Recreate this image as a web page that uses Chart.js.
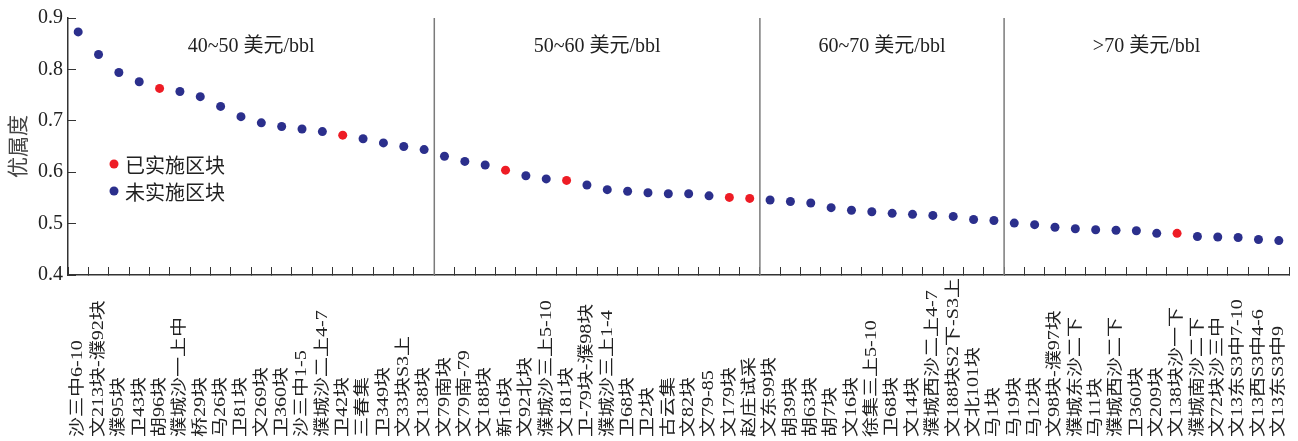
<!DOCTYPE html>
<html>
<head>
<meta charset="utf-8">
<script src="https://cdn.jsdelivr.net/npm/chart.js@4/dist/chart.umd.min.js"></script>
<style>
    html, body { margin: 0; padding: 0; background: #fff; }
    #wrap { width: 1298px; height: 441px; position: relative; }
</style>
</head>
<body>
<div id="wrap"><canvas id="chart"></canvas></div>
<script>
// 区块名称
const categories = [
    '沙三中6-10', '文213块-濮92块', '濮95块', '卫43块', '胡96块', '濮城沙一上中',
    '桥29块', '马26块', '卫81块', '文269块', '卫360块', '沙三中1-5',
    '濮城沙二上4-7', '卫42块', '三春集', '卫349块', '文33块S3上', '文138块',
    '文79南块', '文79南-79', '文188块', '新16块', '文92北块', '濮城沙三上5-10',
    '文181块', '卫-79块-濮98块', '濮城沙三上1-4', '卫68块', '卫2块', '古云集',
    '文82块', '文79-85', '文179块', '赵庄试采', '文东99块', '胡39块',
    '胡63块', '胡7块', '文16块', '徐集三上5-10', '卫68块', '文14块',
    '濮城西沙二上4-7', '文188块S2下-S3上', '文北101块', '马1块', '马19块', '马12块',
    '文98块-濮97块', '濮城东沙二下', '马11块', '濮城西沙二下', '卫360块', '文209块',
    '文138块沙一下', '濮城南沙二下', '文72块沙三中', '文13东S3中7-10', '文13西S3中4-6', '文13东S3中9'
];

// 优属度
const values = [
    0.873, 0.829, 0.794, 0.776, 0.763, 0.757,
    0.747, 0.728, 0.708, 0.696, 0.689, 0.684,
    0.679, 0.672, 0.665, 0.657, 0.650, 0.644,
    0.631, 0.621, 0.614, 0.604, 0.593, 0.587,
    0.584, 0.575, 0.566, 0.563, 0.560, 0.558,
    0.558, 0.554, 0.551, 0.549, 0.546, 0.543,
    0.540, 0.531, 0.526, 0.523, 0.520, 0.518,
    0.516, 0.514, 0.508, 0.506, 0.501, 0.498,
    0.493, 0.490, 0.488, 0.487, 0.486, 0.481,
    0.481, 0.475, 0.474, 0.473, 0.469, 0.467
];

// 已实施区块的序号
const implementedIdx = [4, 13, 21, 24, 32, 33, 54];

// 油价分组
const groupLabels = ['40~50 美元/bbl', '50~60 美元/bbl', '60~70 美元/bbl', '>70 美元/bbl'];
const groupSizes = [18, 16, 12, 14];

const yTicks = [0.4, 0.5, 0.6, 0.7, 0.8, 0.9];

const seriesNames = ['已实施区块', '未实施区块'];
const colors = ['#ee1c25', '#2b2f8c'];

const doneData = values.map((v, i) => implementedIdx.includes(i) ? v : null);
const todoData = values.map((v, i) => implementedIdx.includes(i) ? null : v);

const serif = "'Liberation Serif', 'Noto Sans CJK SC', serif";

// 分组竖线和油价文字
const groupPlugin = {
    id: 'groups',
    beforeDatasetsDraw(chart) {
        const { ctx, chartArea, scales: { x } } = chart;
        ctx.save();
        ctx.strokeStyle = '#7a7a7a';
        ctx.lineWidth = 1.5;
        ctx.fillStyle = '#222';
        ctx.font = '20px ' + serif;
        ctx.textAlign = 'center';
        ctx.textBaseline = 'middle';
        let start = 0;
        groupSizes.forEach((n, g) => {
            const end = start + n;
            const left = start === 0 ? chartArea.left : (x.getPixelForValue(start - 1) + x.getPixelForValue(start)) / 2;
            const right = end === categories.length ? chartArea.right : (x.getPixelForValue(end - 1) + x.getPixelForValue(end)) / 2;
            if (end < categories.length) {
                ctx.beginPath();
                ctx.moveTo(right, chartArea.top);
                ctx.lineTo(right, chartArea.bottom);
                ctx.stroke();
            }
            ctx.fillText(groupLabels[g], (left + right) / 2, chartArea.top + 29);
            start = end;
        });
        ctx.restore();
    }
};

// 竖排的区块名称 + 图例
const labelPlugin = {
    id: 'labels',
    afterDraw(chart) {
        const { ctx, chartArea, scales: { x } } = chart;
        ctx.save();
        ctx.fillStyle = '#222';
        ctx.font = '20px ' + serif;
        ctx.textAlign = 'left';
        ctx.textBaseline = 'middle';
        categories.forEach((name, i) => {
            ctx.save();
            ctx.translate(x.getPixelForValue(i), chart.height - 4);
            ctx.rotate(-Math.PI / 2);
            ctx.scale(1, 0.82);
            ctx.fillText(name, 0, 0);
            ctx.restore();
        });

        // 图例
        ctx.font = "20px 'Noto Sans CJK SC', sans-serif";
        seriesNames.forEach((name, k) => {
            const ly = chartArea.top + 146 + k * 27;
            ctx.fillStyle = colors[k];
            ctx.beginPath();
            ctx.arc(chartArea.left + 46, ly, 4.5, 0, Math.PI * 2);
            ctx.fill();
            ctx.fillStyle = '#222';
            ctx.fillText(name, chartArea.left + 57, ly + 1);
        });
        ctx.restore();
    }
};

new Chart(document.getElementById('chart'), {
    type: 'line',
    data: {
        labels: categories,
        datasets: [
            { label: seriesNames[0], data: doneData, showLine: false, pointRadius: 4.5, pointHoverRadius: 4.5,
              pointBorderWidth: 0, backgroundColor: colors[0], borderColor: colors[0] },
            { label: seriesNames[1], data: todoData, showLine: false, pointRadius: 4.5, pointHoverRadius: 4.5,
              pointBorderWidth: 0, backgroundColor: colors[1], borderColor: colors[1] }
        ]
    },
    options: {
        responsive: true,
        maintainAspectRatio: false,
        animation: false,
        layout: { padding: { top: 18, right: 9, left: 0, bottom: 0 } },
        plugins: {
            legend: { display: false },
            tooltip: { enabled: false }
        },
        scales: {
            x: {
                type: 'category',
                offset: true,
                grid: { offset: true, drawOnChartArea: false, tickLength: -8, color: '#333', lineWidth: 1 },
                border: { color: '#333', width: 1.5 },
                ticks: { display: false },
                afterFit(s) { s.height = 166; }
            },
            y: {
                min: yTicks[0],
                max: yTicks[yTicks.length - 1],
                afterBuildTicks(s) { s.ticks = yTicks.map(v => ({ value: v })); },
                grid: { drawOnChartArea: false, tickLength: -8, color: '#333', lineWidth: 1 },
                border: { color: '#333', width: 1.5 },
                ticks: {
                    color: '#222',
                    padding: 13,
                    font: { family: serif, size: 20 },
                    callback: v => v.toFixed(1)
                },
                title: {
                    display: true,
                    text: '优属度',
                    color: '#444',
                    font: { family: "'Noto Sans CJK SC', sans-serif", size: 21 },
                    padding: { top: 4, bottom: 0 }
                },
                afterFit(s) {
                    s.width = 68;
                    s.paddingTop = 0;
                    s.paddingBottom = 0;
                }
            }
        }
    },
    plugins: [groupPlugin, labelPlugin]
});
</script>
</body>
</html>
